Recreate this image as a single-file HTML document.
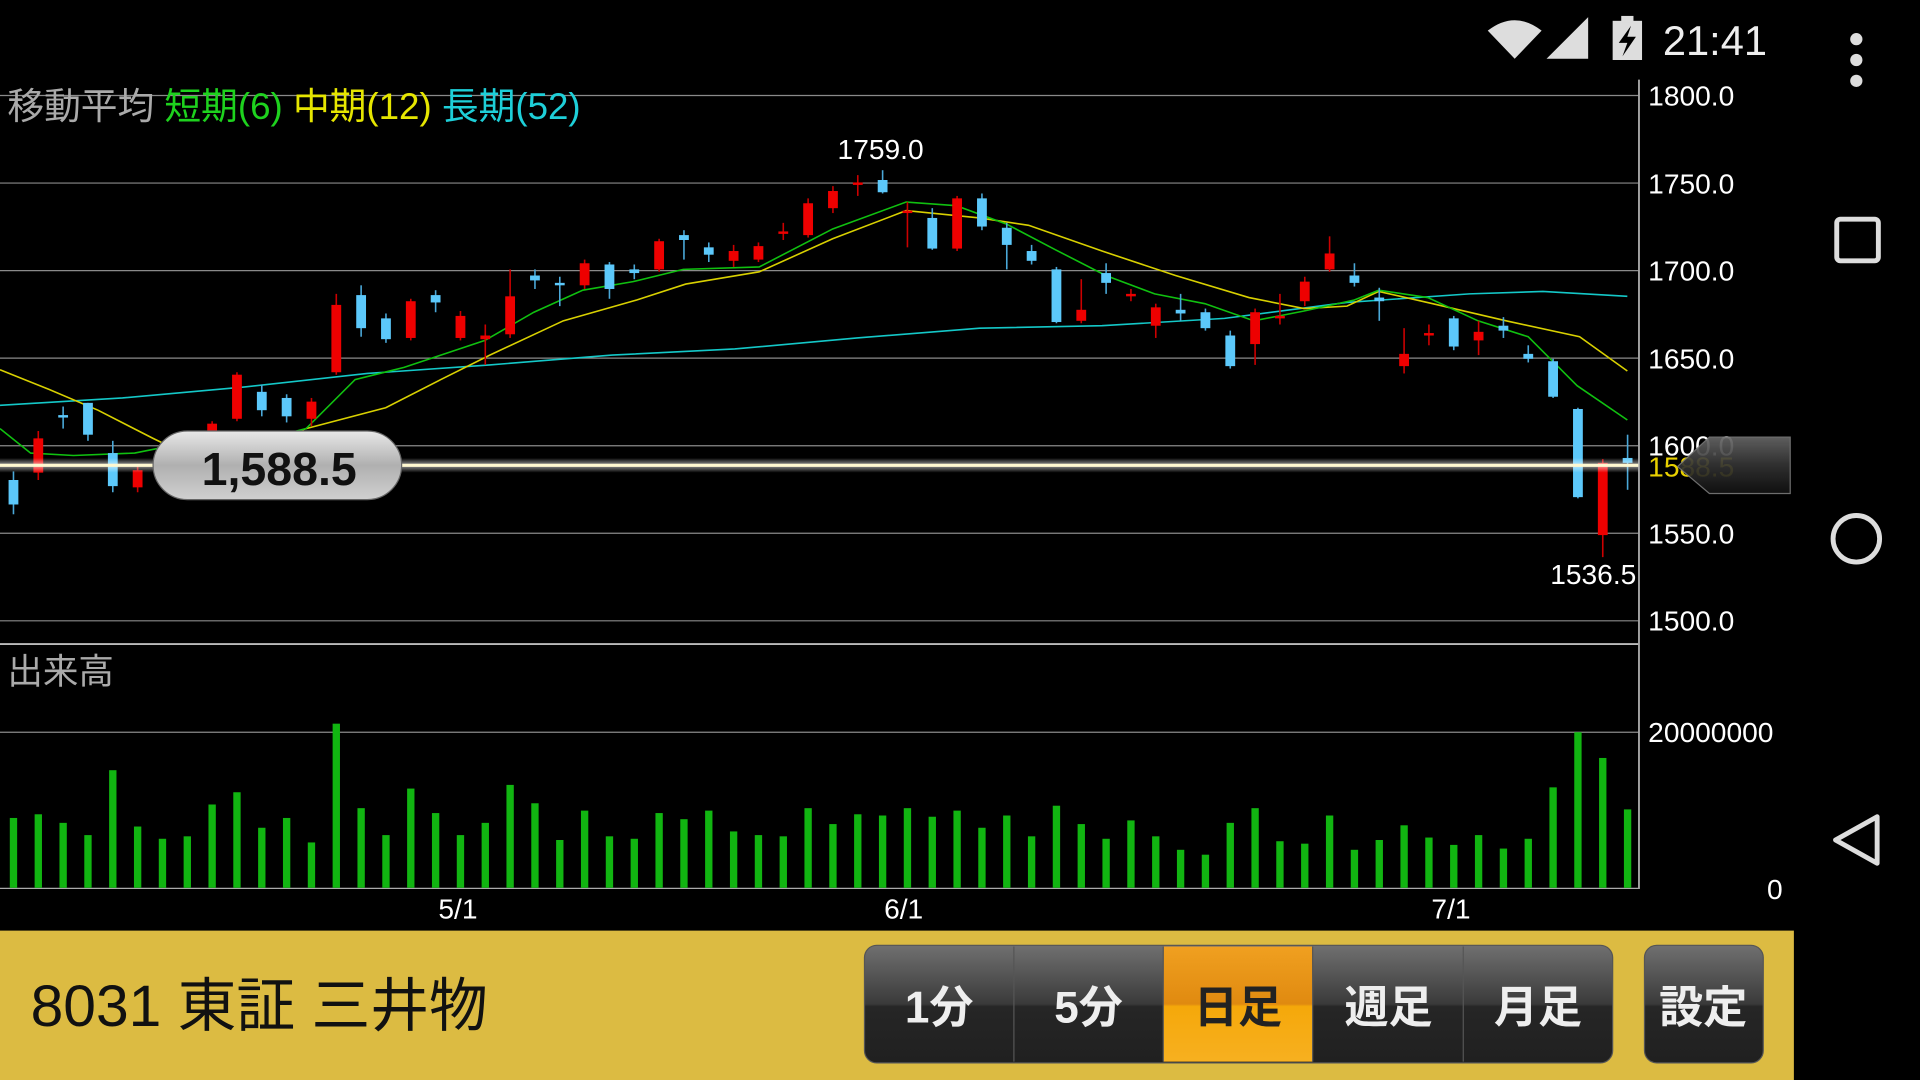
<!DOCTYPE html>
<html><head><meta charset="utf-8"><style>
html,body{margin:0;padding:0;background:#000;width:1920px;height:1080px;overflow:hidden}
svg{display:block}
text{font-family:"Liberation Sans","Noto Sans CJK JP",sans-serif}
</style></head><body>
<svg id="s" width="1920" height="1080" viewBox="0 0 1568 882" xmlns="http://www.w3.org/2000/svg">
<defs>
<linearGradient id="pill" x1="0" y1="0" x2="0" y2="1"><stop offset="0" stop-color="#e8e8e8"/><stop offset="0.5" stop-color="#b0b0b0"/><stop offset="1" stop-color="#d0d0d0"/></linearGradient>
<linearGradient id="btn" x1="0" y1="0" x2="0" y2="1"><stop offset="0" stop-color="#707070"/><stop offset="0.5" stop-color="#3a3a3a"/><stop offset="0.52" stop-color="#262626"/><stop offset="1" stop-color="#202020"/></linearGradient>
<linearGradient id="obtn" x1="0" y1="0" x2="0" y2="1"><stop offset="0" stop-color="#f0a020"/><stop offset="0.5" stop-color="#e08a10"/><stop offset="0.52" stop-color="#f5a80a"/><stop offset="1" stop-color="#f7b020"/></linearGradient>
<linearGradient id="glow" x1="0" y1="0" x2="0" y2="1"><stop offset="0" stop-color="#fff" stop-opacity="0"/><stop offset="0.5" stop-color="#fff" stop-opacity="0.6"/><stop offset="1" stop-color="#fff" stop-opacity="0"/></linearGradient>
<linearGradient id="arr" x1="0" y1="0" x2="0" y2="1"><stop offset="0" stop-color="#666"/><stop offset="0.5" stop-color="#333"/><stop offset="1" stop-color="#111"/></linearGradient>
</defs>
<g id="grid" stroke="#8a8a8a" stroke-width="1">
<line x1="0" y1="78" x2="1338" y2="78"/><line x1="0" y1="149.5" x2="1338" y2="149.5"/><line x1="0" y1="221" x2="1338" y2="221"/><line x1="0" y1="292.5" x2="1338" y2="292.5"/><line x1="0" y1="364" x2="1338" y2="364"/><line x1="0" y1="435.5" x2="1338" y2="435.5"/><line x1="0" y1="507" x2="1338" y2="507"/>
<line x1="0" y1="598" x2="1338" y2="598"/>
<line x1="0" y1="526" x2="1338" y2="526" stroke="#bbb" stroke-width="1.5"/>
<line x1="1338.5" y1="65" x2="1338.5" y2="726" stroke="#aaa" stroke-width="1.5"/>
<line x1="0" y1="725.5" x2="1338" y2="725.5" stroke="#aaa"/>
</g>
<g id="vol"></g>
<g id="ma" fill="none" stroke-width="1.3"></g>
<g id="cd"></g>
<rect x="0" y="374" width="1338" height="12" fill="url(#glow)"/>
<line x1="0" y1="380" x2="1338" y2="380" stroke="#fff8d0" stroke-width="2.5"/>
<rect x="125" y="352" width="203" height="56" rx="28" fill="url(#pill)" stroke="#666"/>
<text x="228" y="396" font-size="38" font-weight="bold" text-anchor="middle" fill="#111">1,588.5</text>
<g fill="#fff" font-size="23">
<text x="1346" y="86">1800.0</text><text x="1346" y="158">1750.0</text><text x="1346" y="229">1700.0</text><text x="1346" y="301">1650.0</text><text x="1346" y="372">1600.0</text><text x="1346" y="444">1550.0</text><text x="1346" y="515">1500.0</text>
<text x="1346" y="606">20000000</text><text x="1443" y="734">0</text>
<text x="358" y="750">5/1</text><text x="722" y="750">6/1</text><text x="1169" y="750">7/1</text>
<text x="684" y="130">1759.0</text><text x="1266" y="477">1536.5</text>
</g>
<text x="1346" y="389" font-size="23" fill="#e8d000">1588.5</text>
<path d="M1370,381 L1396,357 L1462,357 L1462,403 L1396,403 Z" fill="url(#arr)" stroke="#777" opacity="0.92"/>
<text x="6" y="97" font-size="30" fill="#aaa">移動平均 <tspan fill="#1ed21e">短期(6)</tspan> <tspan fill="#e6e600">中期(12)</tspan> <tspan fill="#1ecfd8">長期(52)</tspan></text>
<text x="6" y="558" font-size="29" fill="#aaa">出来高</text>
<!-- status bar -->
<path d="M1215,25 Q1237,8 1259,25 L1237,48 Z" fill="#ddd"/>
<path d="M1263,48 L1297,14 L1297,48 Z" fill="#ddd"/>
<rect x="1317" y="17" width="24" height="32" fill="#ddd"/><rect x="1324" y="13" width="10" height="5" fill="#ddd"/>
<path d="M1332,21 L1322,35 L1329,35 L1325,46 L1336,30 L1329,30 Z" fill="#000"/>
<text x="1358" y="45" font-size="34" fill="#eee">21:41</text>
<circle cx="1516" cy="32" r="5" fill="#ddd"/><circle cx="1516" cy="49" r="5" fill="#ddd"/><circle cx="1516" cy="66" r="5" fill="#ddd"/>
<rect x="1500" y="179" width="34" height="34" rx="3" fill="none" stroke="#ddd" stroke-width="4"/>
<circle cx="1516" cy="440" r="19" fill="none" stroke="#ddd" stroke-width="4"/>
<path d="M1533,667 L1533,705 L1499,686 Z" fill="none" stroke="#ddd" stroke-width="4" stroke-linejoin="round"/>
<!-- bottom bar -->
<rect x="0" y="760" width="1465" height="122" fill="#dcbb42"/>
<text x="25" y="838" font-size="48" fill="#111">8031 東証 三井物</text>
<rect x="706" y="772" width="611" height="96" rx="10" fill="url(#btn)" stroke="#555"/>
<rect x="950" y="773" width="122" height="94" fill="url(#obtn)"/>
<g stroke="#555"><line x1="828" y1="773" x2="828" y2="867"/><line x1="950" y1="773" x2="950" y2="867"/><line x1="1072" y1="773" x2="1072" y2="867"/><line x1="1195" y1="773" x2="1195" y2="867"/></g>
<rect x="1343" y="772" width="97" height="96" rx="10" fill="url(#btn)" stroke="#555"/>
<g font-size="36" font-weight="bold" text-anchor="middle" fill="#eee">
<text x="767" y="835">1分</text><text x="889" y="835">5分</text><text x="1011" y="835" fill="#222">日足</text><text x="1134" y="835">週足</text><text x="1256" y="835">月足</text><text x="1391" y="835">設定</text>
</g>
</svg>
<script>
var NS="http://www.w3.org/2000/svg";
function el(p,t,a){var e=document.createElementNS(NS,t);for(var k in a)e.setAttribute(k,a[k]);p.appendChild(e);return e;}
var C=[["b",392,412,385,420],["r",358,386,352,392],["b",339,341,332,350],["b",329,355,329,360],["b",370,397,360,402],["r",384,398,380,402],["b",378,382,372,390],["b",377,380,372,388],["r",346,360,344,362],["r",306,342,304,344],["b",320,335,314,340],["b",325,340,322,345],["r",328,342,325,348],["r",249,304,240,306],["b",241,268,233,275],["b",260,277,256,280],["r",246,276,244,278],["b",241,247,237,255],["r",258,276,254,278],["r",274,277,265,298],["r",242,273,220,276],["b",225,229,220,236],["b",231,233,226,250],["r",215,233,212,236],["b",216,236,214,244],["b",220,223,216,228],["r",197,220,195,222],["b",192,196,188,212],["b",202,208,198,214],["r",205,213,200,218],["r",201,212,198,214],["r",189,191,182,196],["r",166,192,162,194],["r",156,170,152,174],["r",149,151,143,160],["b",147,157,139,158],["r",172,174,165,202],["b",178,203,170,204],["r",162,203,160,205],["b",162,185,158,188],["b",186,200,182,220],["b",205,213,200,216],["b",220,263,218,264],["r",253,262,228,264],["b",223,231,215,240],["r",240,242,236,246],["r",251,266,248,276],["b",253,256,240,262],["b",255,268,252,270],["b",274,299,270,301],["r",255,281,252,298],["r",258,260,240,265],["r",230,246,226,250],["r",207,220,193,222],["b",225,231,215,234],["b",243,246,235,262],["r",289,299,268,305],["r",272,274,265,282],["b",260,283,258,286],["r",271,278,262,290],["b",266,270,259,276],["b",289,293,282,296],["b",295,324,293,325],["b",334,406,333,407],["r",378,437,375,455],["b",374,378,355,400]];
var V=[668,665,672,682,629,675,685,683,657,647,676,668,688,591,660,682,644,664,682,672,641,656,686,662,683,685,664,669,662,679,682,683,660,673,665,666,660,667,662,676,666,683,658,673,685,670,683,694,698,672,660,687,689,666,694,686,674,684,690,682,693,685,643,598,619,661];
var cd=document.getElementById("cd"),vg=document.getElementById("vol");
for(var i=0;i<66;i++){var x=11+20.28*i;
 el(vg,"rect",{x:x-3,y:V[i],width:6,height:725-V[i],fill:"#11b511"});
 var c=C[i],col=c[0]=="r"?"#ee0000":"#5cc8fa",wc=c[0]=="r"?"#c00":"#4aa8d8";
 el(cd,"line",{x1:x,x2:x,y1:c[3],y2:c[4],stroke:wc,"stroke-width":1.3});
 el(cd,"rect",{x:x-4,y:c[1],width:8,height:Math.max(2,c[2]-c[1]),fill:col});}
var ma=document.getElementById("ma");
function pl(pts,col){el(ma,"polyline",{points:pts,stroke:col});}
pl("0,331 100,325 200,316 300,305 400,298 500,290 600,285 700,276 800,268 900,266 1000,260 1100,247 1200,240 1260,238 1329,242","#14c8c8");
pl("0,302 40,318 80,335 125,358 160,375 200,370 250,350 315,333 360,310 400,290 460,262 520,245 560,232 620,222 680,195 740,172 800,178 840,184 900,205 960,225 1020,243 1065,252 1100,250 1126,238 1170,248 1230,262 1290,275 1329,303","#d8d000");
pl("0,350 25,370 60,372 110,370 160,360 200,363 250,350 290,310 330,300 375,285 396,278 436,255 476,237 517,230 558,220 620,218 680,187 740,165 781,168 822,183 862,204 903,225 943,240 984,248 1024,262 1065,254 1106,245 1126,237 1166,243 1207,262 1248,275 1288,315 1329,343","#10c010");
</script>
</body></html>
